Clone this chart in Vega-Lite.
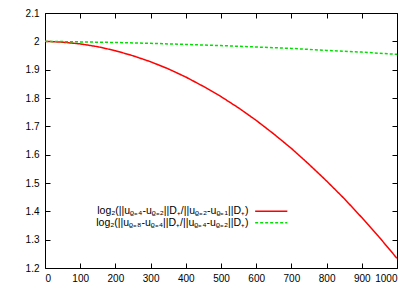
{
  "$schema": "https://vega.github.io/schema/vega-lite/v6.json",
  "width": 352,
  "height": 255,
  "autosize": {"type": "none"},
  "padding": {"left": 45, "top": 13, "right": 18, "bottom": 23},
  "config": {
    "view": {"stroke": "#000", "strokeWidth": 1},
    "font": "Liberation Sans",
    "axis": {"grid": false, "domain": false, "tickColor": "#000", "tickSize": -5, "labelFont": "Liberation Sans", "labelFontSize": 10, "labelColor": "#000", "title": null}
  },
  "data": {"values": [
    {"series": "A", "x": 0, "y": 2.000},
    {"series": "A", "x": 50, "y": 1.997},
    {"series": "A", "x": 100, "y": 1.991},
    {"series": "A", "x": 150, "y": 1.981},
    {"series": "A", "x": 200, "y": 1.967},
    {"series": "A", "x": 250, "y": 1.949},
    {"series": "A", "x": 300, "y": 1.928},
    {"series": "A", "x": 350, "y": 1.903},
    {"series": "A", "x": 400, "y": 1.874},
    {"series": "A", "x": 450, "y": 1.841},
    {"series": "A", "x": 500, "y": 1.805},
    {"series": "A", "x": 550, "y": 1.765},
    {"series": "A", "x": 600, "y": 1.721},
    {"series": "A", "x": 650, "y": 1.673},
    {"series": "A", "x": 700, "y": 1.622},
    {"series": "A", "x": 750, "y": 1.566},
    {"series": "A", "x": 800, "y": 1.507},
    {"series": "A", "x": 850, "y": 1.445},
    {"series": "A", "x": 900, "y": 1.378},
    {"series": "A", "x": 950, "y": 1.308},
    {"series": "A", "x": 1000, "y": 1.234},
    {"series": "B", "x": 0, "y": 2.000},
    {"series": "B", "x": 100, "y": 1.998},
    {"series": "B", "x": 200, "y": 1.996},
    {"series": "B", "x": 300, "y": 1.993},
    {"series": "B", "x": 400, "y": 1.989},
    {"series": "B", "x": 500, "y": 1.985},
    {"series": "B", "x": 600, "y": 1.980},
    {"series": "B", "x": 700, "y": 1.975},
    {"series": "B", "x": 800, "y": 1.968},
    {"series": "B", "x": 900, "y": 1.962},
    {"series": "B", "x": 1000, "y": 1.954}
  ]},
  "layer": [
    {
      "mark": {"type": "line", "strokeWidth": 1.5, "clip": true},
      "encoding": {
        "x": {"field": "x", "type": "quantitative", "scale": {"domain": [0, 1000], "nice": false},
              "axis": {"orient": "bottom", "values": [0,100,200,300,400,500,600,700,800,900,1000], "format": "d", "labelPadding": 10}},
        "y": {"field": "y", "type": "quantitative", "scale": {"domain": [1.2, 2.1], "nice": false, "zero": false},
              "axis": {"orient": "left", "values": [1.2,1.3,1.4,1.5,1.6,1.7,1.8,1.9,2,2.1], "format": "~g", "labelPadding": 11}},
        "color": {"field": "series", "type": "nominal",
                  "scale": {"domain": ["A", "B"], "range": ["#ff0000", "#00e000"]},
                  "legend": {"orient": "none", "legendX": 221, "legendY": 193, "title": null,
                             "symbolType": "M-4.6,0H4.6", "symbolSize": 49, "symbolStrokeWidth": 1.5,
                             "rowPadding": 0.5,
                             "labelAlign": "right", "labelOffset": -28, "labelFontSize": 10.5, "labelColor": "#000",
                             "labelLimit": 0,
                             "labelExpr": "datum.value == 'A' ? 'log₂(||uᵨ₌₄-uᵨ₌₂||D₊/||uᵨ₌₂-uᵨ₌₁||D₊)' : 'log₂(||uᵨ₌₈-uᵨ₌₄||D₊/||uᵨ₌₄-uᵨ₌₂||D₊)'"}},
        "strokeDash": {"field": "series", "type": "nominal",
                  "scale": {"domain": ["A", "B"], "range": [[1, 0], [3, 2]]},
                  "legend": {"orient": "none", "legendX": 221, "legendY": 193, "title": null,
                             "symbolType": "M-4.6,0H4.6", "symbolSize": 49, "symbolStrokeWidth": 1.5,
                             "rowPadding": 0.5,
                             "labelAlign": "right", "labelOffset": -28, "labelFontSize": 10.5, "labelColor": "#000",
                             "labelLimit": 0,
                             "labelExpr": "datum.value == 'A' ? 'log₂(||uᵨ₌₄-uᵨ₌₂||D₊/||uᵨ₌₂-uᵨ₌₁||D₊)' : 'log₂(||uᵨ₌₈-uᵨ₌₄||D₊/||uᵨ₌₄-uᵨ₌₂||D₊)'"}}
      }
    },
    {
      "mark": {"type": "line", "opacity": 0},
      "encoding": {
        "x": {"field": "x", "type": "quantitative",
              "axis": {"orient": "top", "values": [0,100,200,300,400,500,600,700,800,900,1000], "labels": false}},
        "y": {"field": "y", "type": "quantitative",
              "axis": {"orient": "right", "values": [1.2,1.3,1.4,1.5,1.6,1.7,1.8,1.9,2,2.1], "labels": false}}
      }
    }
  ]
}
